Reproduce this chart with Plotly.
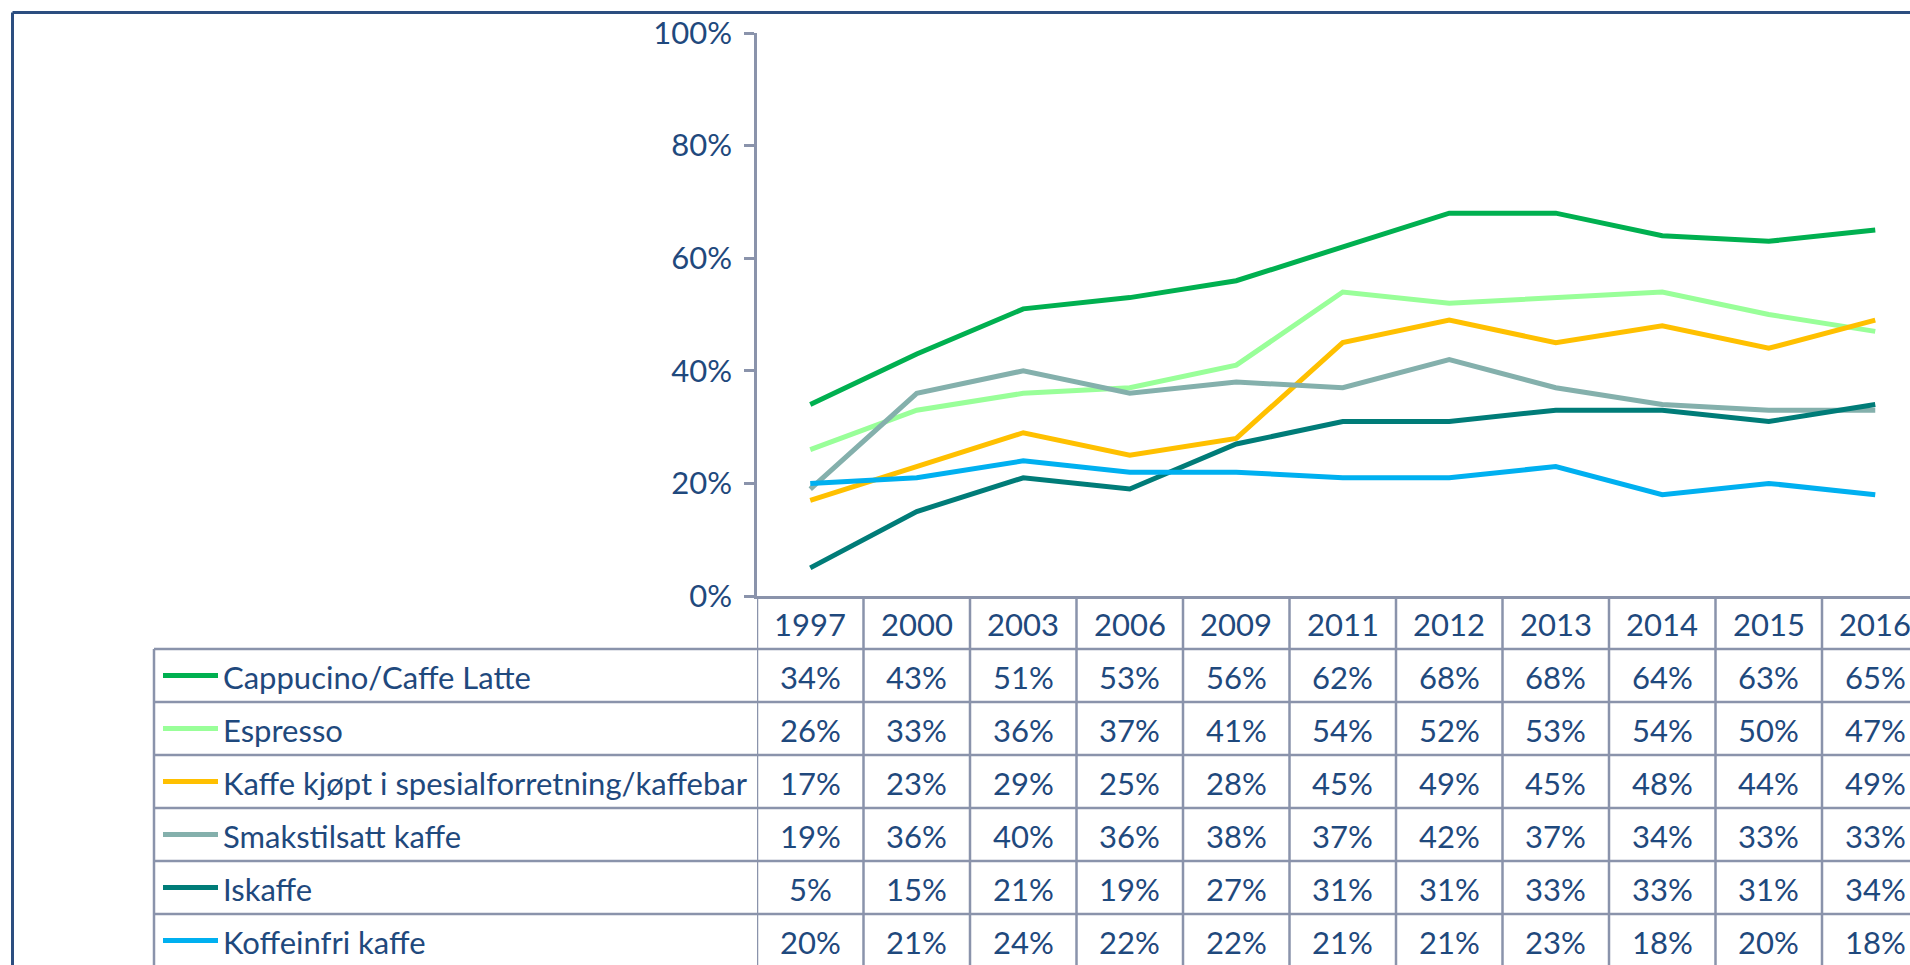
import plotly.graph_objects as go

# ---------------- data ----------------
years = ["1997", "2000", "2003", "2006", "2009", "2011", "2012", "2013", "2014", "2015", "2016"]
series_names = [
    "Cappucino/Caffe Latte",
    "Espresso",
    "Kaffe kjøpt i spesialforretning/kaffebar",
    "Smakstilsatt kaffe",
    "Iskaffe",
    "Koffeinfri kaffe",
]
cappucino = [34, 43, 51, 53, 56, 62, 68, 68, 64, 63, 65]
espresso = [26, 33, 36, 37, 41, 54, 52, 53, 54, 50, 47]
kaffebar = [17, 23, 29, 25, 28, 45, 49, 45, 48, 44, 49]
smakstilsatt = [19, 36, 40, 36, 38, 37, 42, 37, 34, 33, 33]
iskaffe = [5, 15, 21, 19, 27, 31, 31, 33, 33, 31, 34]
koffeinfri = [20, 21, 24, 22, 22, 21, 21, 23, 18, 20, 18]
y_ticks = [0, 20, 40, 60, 80, 100]
y_tick_labels = ["0%", "20%", "40%", "60%", "80%", "100%"]

series_values = [cappucino, espresso, kaffebar, smakstilsatt, iskaffe, koffeinfri]
colors = ["#00B050", "#99FF99", "#FFC000", "#84B0AC", "#007C78", "#00B0F0"]

# ---------------- layout constants ----------------
W, H = 1910, 965
TEXT = "#1F497D"
GRID = "#8A93AB"
FONT = "Lato"
FS = 31

axis_x = 757.0          # y-axis position (px)
col_w = 106.5           # category width (px)
plot_top = 33.0
plot_bottom = 596.0
header_bottom = 649.0
row_h = 53.0
legend_left = 154.0


def px_x(p):
    return p / W


def px_y(p):
    return 1 - p / H


x_end = -0.5 + (W - axis_x) / col_w

fig = go.Figure()

for name, vals, col in zip(series_names, series_values, colors):
    fig.add_trace(go.Scatter(
        x=years, y=vals, mode="lines", name=name,
        line=dict(color=col, width=5),
        showlegend=False, hoverinfo="skip",
    ))

shapes = []
annotations = []

# outer chart-area border (top and left visible)
shapes.append(dict(type="line", xref="paper", yref="paper",
                   x0=px_x(12.5), x1=1.01, y0=px_y(12.5), y1=px_y(12.5),
                   line=dict(color="#2C4E80", width=3)))
shapes.append(dict(type="line", xref="paper", yref="paper",
                   x0=px_x(12.5), x1=px_x(12.5), y0=px_y(12.5), y1=-0.01,
                   line=dict(color="#2C4E80", width=3)))

# table vertical lines at category boundaries (through the x axis)
for i in range(len(years) + 1):
    shapes.append(dict(type="line", xref="x", yref="paper",
                       x0=i - 0.5, x1=i - 0.5, y0=px_y(plot_bottom), y1=-0.01,
                       line=dict(color=GRID, width=2.5)))
# left border of legend column
shapes.append(dict(type="line", xref="paper", yref="paper",
                   x0=px_x(legend_left), x1=px_x(legend_left),
                   y0=px_y(header_bottom), y1=-0.01,
                   line=dict(color=GRID, width=2.5)))
# horizontal row lines
for k in range(len(series_names) + 1):
    yy = header_bottom + k * row_h
    shapes.append(dict(type="line", xref="paper", yref="paper",
                       x0=px_x(legend_left), x1=1.01, y0=px_y(yy), y1=px_y(yy),
                       line=dict(color=GRID, width=2.5)))

# header: years
for i, yr in enumerate(years):
    annotations.append(dict(x=i, xref="x", y=px_y((plot_bottom + header_bottom) / 2 + 1),
                            yref="paper", text=yr, showarrow=False,
                            font=dict(family=FONT, size=FS, color=TEXT),
                            xanchor="center", yanchor="middle"))

# rows
for r, (name, vals, col) in enumerate(zip(series_names, series_values, colors)):
    yc = header_bottom + (r + 0.5) * row_h + 1
    shapes.append(dict(type="line", xref="paper", yref="paper",
                       x0=px_x(163), x1=px_x(218), y0=px_y(yc - 1), y1=px_y(yc - 1),
                       line=dict(color=col, width=5)))
    annotations.append(dict(x=px_x(221), xref="paper", y=px_y(yc), yref="paper",
                            text=name, showarrow=False, xanchor="left", yanchor="middle",
                            font=dict(family=FONT, size=FS, color=TEXT)))
    for i, v in enumerate(vals):
        annotations.append(dict(x=i, xref="x", y=px_y(yc), yref="paper",
                                text=f"{v}%", showarrow=False,
                                xanchor="center", yanchor="middle",
                                font=dict(family=FONT, size=FS, color=TEXT)))

fig.update_layout(
    width=W, height=H,
    margin=dict(l=0, r=0, t=0, b=0, pad=0),
    paper_bgcolor="white", plot_bgcolor="white",
    xaxis=dict(
        type="category", categoryorder="array", categoryarray=years,
        domain=[px_x(axis_x), 1], range=[-0.5, x_end],
        showticklabels=False, ticks="", showgrid=False, zeroline=False,
        showline=True, linecolor=GRID, linewidth=2.5, automargin=False,
    ),
    yaxis=dict(
        domain=[px_y(plot_bottom), px_y(plot_top)], range=[0, 100],
        tickvals=y_ticks, ticktext=y_tick_labels,
        ticks="outside", ticklen=10, tickwidth=2.5, tickcolor=GRID,
        showline=True, linecolor=GRID, linewidth=2.5,
        showgrid=False, zeroline=False, automargin=False,
        tickfont=dict(family=FONT, size=FS, color=TEXT),
        ticklabelstandoff=6,
    ),
    shapes=shapes,
    annotations=annotations,
)

fig.write_html("out.html", config={"displayModeBar": False},
               post_script="document.body.style.margin='0';")
